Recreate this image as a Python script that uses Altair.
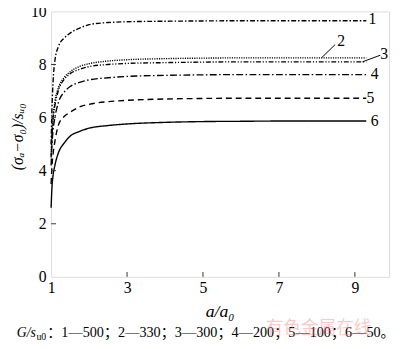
import altair as alt
import pandas as pd

# ---- data ----
x_vals = [1.0, 1.02, 1.05, 1.1, 1.2, 1.35, 1.5, 1.75, 2.0, 2.5, 3.0, 4.0, 5.0, 6.0, 7.0, 8.0, 9.3]
curve1 = [5.0, 6.2, 7.3, 8.15, 8.7, 9.0, 9.18, 9.37, 9.5, 9.58, 9.61, 9.63, 9.64, 9.65, 9.65, 9.65, 9.65]
curve2 = [4.6, 5.3, 6.0, 6.6, 7.15, 7.52, 7.72, 7.93, 8.03, 8.13, 8.18, 8.22, 8.24, 8.25, 8.25, 8.25, 8.25]
curve3 = [4.5, 5.2, 5.9, 6.45, 7.05, 7.45, 7.65, 7.82, 7.92, 8.0, 8.04, 8.07, 8.09, 8.1, 8.1, 8.1, 8.1]
curve4 = [4.2, 4.9, 5.5, 6.0, 6.6, 6.97, 7.17, 7.33, 7.42, 7.5, 7.55, 7.59, 7.61, 7.62, 7.62, 7.62, 7.62]
curve5 = [3.5, 4.1, 4.6, 5.1, 5.75, 6.05, 6.2, 6.4, 6.5, 6.6, 6.65, 6.7, 6.72, 6.73, 6.73, 6.73, 6.73]
curve6 = [2.6, 3.3, 3.8, 4.2, 4.7, 5.05, 5.3, 5.48, 5.6, 5.7, 5.76, 5.82, 5.85, 5.86, 5.87, 5.87, 5.87]
series_names = ["1", "2", "3", "4", "5", "6"]

label_text = ["1", "2", "3", "4", "5", "6"]
label_x = [9.46, 8.64, 9.77, 9.52, 9.41, 9.52]
label_y = [9.7, 8.88, 8.4, 7.62, 6.72, 5.86]

leader_x = [8.12, 9.2]
leader_x2 = [8.48, 9.67]
leader_y = [8.25, 8.1]
leader_y2 = [8.75, 8.35]

x_ticks = [1, 3, 5, 7, 9]
y_ticks = [0, 2, 4, 6, 8, 10]
x_inner_ticks = [3, 5, 7, 9]
y_inner_ticks = [2, 4, 6, 8]

x_title = "a/a₀"
y_title = "(σₐ−σ₀)/sᵤ₀"
caption_sym = "G/s"
caption_sub = "u0"
caption_rest = "：1—500；2—330；3—300；4—200；5—100；6—50。"
watermark = "有色金属在线"

# ---- build tables ----
rows = []
for name, ys in zip(series_names, [curve1, curve2, curve3, curve4, curve5, curve6]):
    for i, (xv, yv) in enumerate(zip(x_vals, ys)):
        rows.append({"series": name, "x": xv, "y": yv, "order": i})
df = pd.DataFrame(rows)
df_lab = pd.DataFrame({"t": label_text, "x": label_x, "y": label_y})
df_lead = pd.DataFrame({"x": leader_x, "x2": leader_x2, "y": leader_y, "y2": leader_y2})
df_xt = pd.DataFrame({"x": x_inner_ticks})
df_yt = pd.DataFrame({"y": y_inner_ticks})

W, H = 345, 271
SERIF = "Liberation Serif"

xs = alt.Scale(domain=[1, 9.9], nice=False, zero=False)
ys_ = alt.Scale(domain=[0, 10], nice=False)

dash_range = [[5, 2, 1.5, 2], [1.2, 1.2], [5, 1.8, 1.2, 1.8, 1.2, 1.8], [7, 2.5, 1.5, 2.5], [6, 4], [1, 0]]

x_axis = alt.Axis(values=x_ticks, title=None, labelFont=SERIF, labelFontSize=16, labelColor="black",
                  labelPadding=3, labelFlush=False, tickSize=0, domain=False, grid=False)
y_axis = alt.Axis(values=y_ticks, title=None, labelFont=SERIF, labelFontSize=16, labelColor="black",
                  labelPadding=5, labelFlush=False, tickSize=0, domain=False, grid=False)

lines = alt.Chart(df).mark_line(color="black", strokeWidth=1.4, interpolate="monotone").encode(
    x=alt.X("x:Q", scale=xs, axis=x_axis),
    y=alt.Y("y:Q", scale=ys_, axis=y_axis),
    strokeDash=alt.StrokeDash("series:N", scale=alt.Scale(domain=series_names, range=dash_range), legend=None),
    detail="series:N",
    order="order:Q",
)

labels = alt.Chart(df_lab).mark_text(font=SERIF, fontSize=16, color="black", align="center", baseline="middle").encode(
    x=alt.X("x:Q", scale=xs, axis=x_axis), y=alt.Y("y:Q", scale=ys_, axis=y_axis), text="t:N")

leaders = alt.Chart(df_lead).mark_rule(color="black", strokeWidth=1).encode(
    x=alt.X("x:Q", scale=xs, axis=x_axis), x2="x2:Q", y=alt.Y("y:Q", scale=ys_, axis=y_axis), y2="y2:Q")

xt = alt.Chart(df_xt).mark_rule(color="#333", strokeWidth=1).encode(
    x=alt.X("x:Q", scale=xs, axis=x_axis), y=alt.value(H), y2=alt.value(H - 5))
yt = alt.Chart(df_yt).mark_rule(color="#333", strokeWidth=1).encode(
    y=alt.Y("y:Q", scale=ys_, axis=y_axis), x=alt.value(0), x2=alt.value(5))

one = pd.DataFrame({"a": [0]})
xtitle = alt.Chart(one).mark_text(text=x_title, font=SERIF + ", DejaVu Serif", fontSize=18, fontStyle="italic",
                                  color="black", align="center", baseline="middle").encode(
    x=alt.value(W / 2), y=alt.value(307))
ytitle = alt.Chart(one).mark_text(text=y_title, font=SERIF + ", DejaVu Serif", fontSize=16, fontStyle="italic",
                                  color="black", align="center", baseline="middle", angle=270).encode(
    x=alt.value(-34), y=alt.value(128))
cap1 = alt.Chart(one).mark_text(text=caption_sym, font=SERIF, fontSize=14, fontStyle="italic",
                                color="black", align="left", baseline="alphabetic").encode(
    x=alt.value(-35), y=alt.value(332))
cap2 = alt.Chart(one).mark_text(text=caption_sub, font=SERIF, fontSize=10,
                                color="black", align="left", baseline="alphabetic").encode(
    x=alt.value(-15), y=alt.value(335))
cap3 = alt.Chart(one).mark_text(text=caption_rest, font="Liberation Serif, Noto Sans CJK SC", fontSize=14.5,
                                color="black", align="left", baseline="alphabetic").encode(
    x=alt.value(-4), y=alt.value(332))
wm = alt.Chart(one).mark_text(text=watermark, font="Noto Sans CJK SC", fontSize=18,
                              color="#f08080", opacity=0.4, align="center", baseline="middle").encode(
    x=alt.value(273), y=alt.value(324))

chart = alt.layer(lines, xt, yt, leaders, labels, xtitle, ytitle, cap1, cap2, cap3, wm).properties(
    width=W, height=H,
    autosize=alt.AutoSizeParams(type="none"),
    padding={"left": 44, "top": 0, "right": 3, "bottom": 62},
).configure_view(stroke="#333", strokeWidth=1).configure_axis(
    labelFont=SERIF, labelFontSize=16, labelColor="black", labelFlush=False
).configure(background="white")

chart.save("out.html", embed_options={"renderer": "svg", "actions": False})
